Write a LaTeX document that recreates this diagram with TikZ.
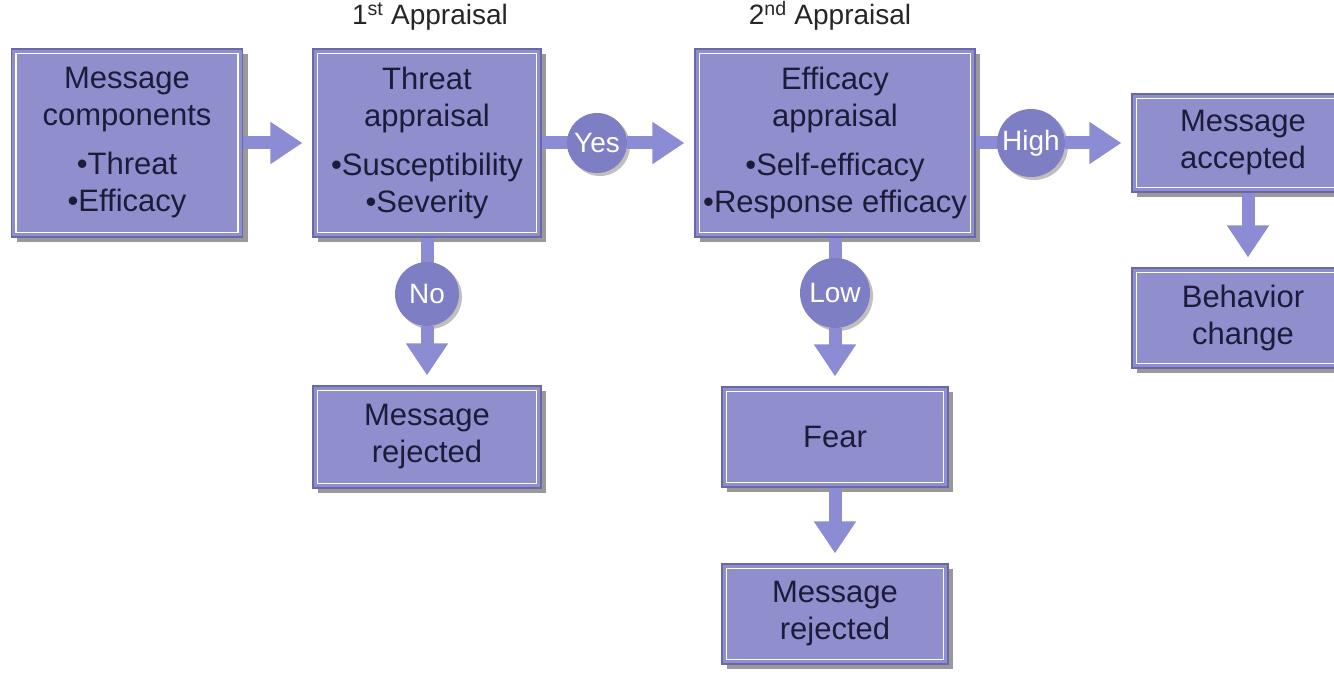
\documentclass[tikz,border=0pt]{standalone}
\usepackage{fontspec}
\setmainfont{Liberation Sans}
\usetikzlibrary{arrows.meta,shadows}
\definecolor{boxfill}{RGB}{143,143,206}
\definecolor{boxedge}{RGB}{105,105,170}
\definecolor{circfill}{RGB}{126,126,196}
\definecolor{arrowcol}{RGB}{140,140,212}
\definecolor{txt}{RGB}{28,28,58}
\tikzset{
  box/.style={draw=boxedge, line width=1.2pt, fill=boxfill, text=txt, align=center,
    inner sep=0pt, font=\fontsize{31}{37}\selectfont,
    drop shadow={shadow xshift=5pt, shadow yshift=-5pt, fill=black, opacity=0.4}},
  decision/.style={circle, fill=circfill, text=white, inner sep=0pt,
    font=\fontsize{28}{30}\selectfont,
    drop shadow={shadow xshift=3pt, shadow yshift=-3pt, fill=black, opacity=0.25}},
  shaft/.style={draw=arrowcol, line width=13pt},
  flow/.style={shaft, -{Triangle[length=32pt,width=40pt]}, shorten >=10pt},
  innerline/.style={draw=white, line width=1.6pt},
  title/.style={font=\fontsize{28}{30}\selectfont, text=black!85, anchor=base}
}
\begin{document}
\begin{tikzpicture}[x=1pt,y=-1pt]
\useasboundingbox (0,0) rectangle (1334,684);
\clip (0,0) rectangle (1334,684);
\fill[white] (0,0) rectangle (1334,684);

% titles
\node[title] (t1) at (430,25) {1\textsuperscript{st} Appraisal};
\node[title] (t2) at (830,25) {2\textsuperscript{nd} Appraisal};

% boxes
\node[box, minimum width=231pt, minimum height=188pt] (comp) at (127,143)
  {Message\\components\\[12pt]\textbullet Threat\\\textbullet Efficacy};
\node[box, minimum width=228pt, minimum height=188pt] (threat) at (427,143)
  {Threat\\appraisal\\[12pt]\textbullet Susceptibility\\\textbullet Severity};
\node[box, minimum width=280pt, minimum height=188pt] (eff) at (835,143)
  {Efficacy\\appraisal\\[12pt]\textbullet Self-efficacy\\\textbullet Response efficacy};
\node[box, minimum width=222pt, minimum height=98pt] (acc) at (1243,143)
  {Message\\accepted};
\node[box, minimum width=222pt, minimum height=100pt] (beh) at (1243,318)
  {Behavior\\change};
\node[box, minimum width=228pt, minimum height=102pt] (rej1) at (427,437)
  {Message\\rejected};
\node[box, minimum width=226pt, minimum height=100pt] (fear) at (835,437)
  {Fear};
\node[box, minimum width=226pt, minimum height=100pt] (rej2) at (835,614)
  {Message\\rejected};

% inner white frames
\foreach \n in {comp,threat,eff,acc,beh,rej1,fear,rej2}
  \draw[innerline] ([shift={(5pt,-5pt)}]\n.north west) rectangle ([shift={(-5pt,5pt)}]\n.south east);

% decision positions
\coordinate (cyes) at (597,143);
\coordinate (chigh) at (1031,143);
\coordinate (cno) at (427,294);
\coordinate (clow) at (835,293);

% shafts to decisions
\draw[shaft] (threat.east) -- (cyes);
\draw[shaft] (eff.east) -- (chigh);
\draw[shaft] (threat.south) -- (cno);
\draw[shaft] (eff.south) -- (clow);

% decisions
\node[decision, minimum size=60pt] (yes) at (cyes) {Yes};
\node[decision, minimum size=68pt] (high) at (chigh) {High};
\node[decision, minimum size=64pt] (no) at (cno) {No};
\node[decision, minimum size=70pt] (low) at (clow) {Low};

% arrows
\draw[flow] (comp.east) -- (threat.west |- comp.east);
\draw[flow] (yes.east) -- (eff.west |- yes.east);
\draw[flow] (high.east) -- (acc.west |- high.east);
\draw[flow] (no.south) -- (no.south |- rej1.north);
\draw[flow] (low.south) -- (low.south |- fear.north);
\draw[flow] (fear.south) -- (fear.south |- rej2.north);
\draw[flow] ([xshift=5pt]acc.south) -- ([xshift=5pt]beh.north);
\end{tikzpicture}
\end{document}
